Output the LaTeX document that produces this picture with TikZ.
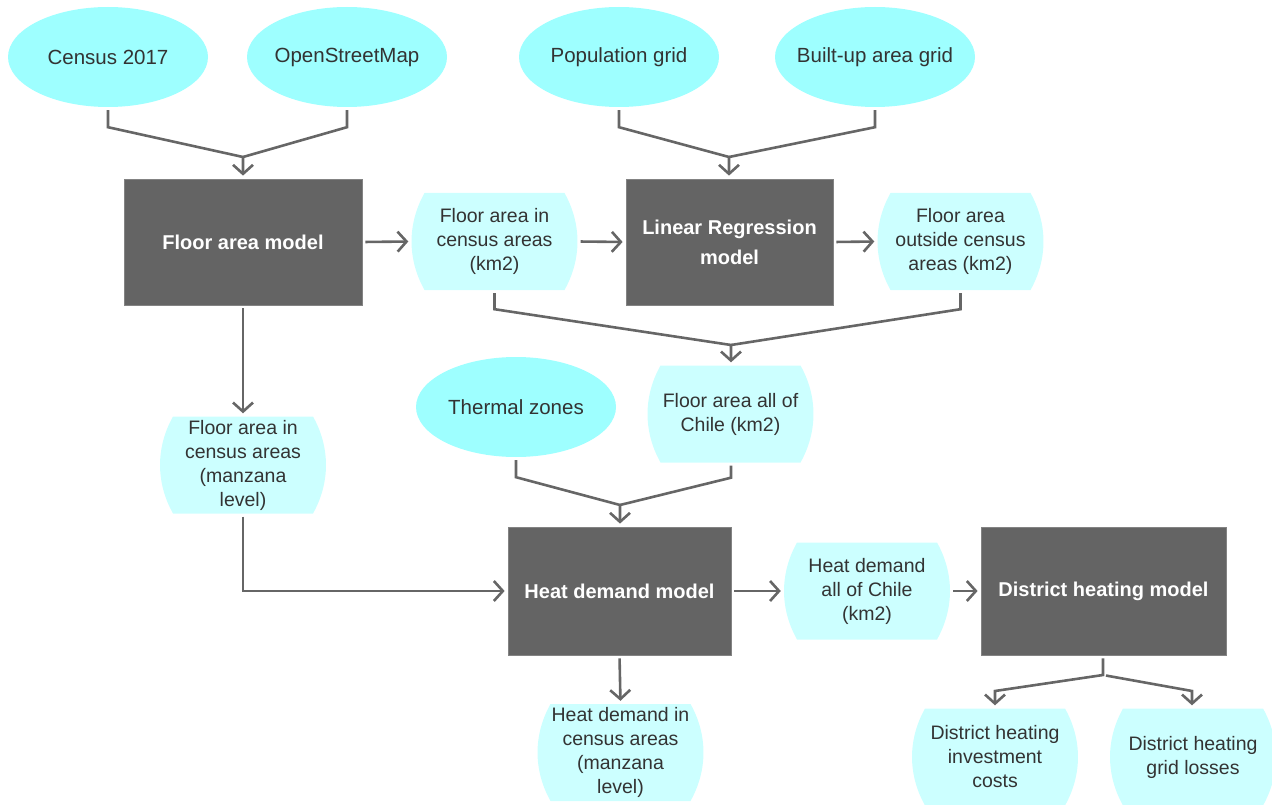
\documentclass[tikz,border=0pt]{standalone}
\usepackage{fontspec}
\setmainfont{Liberation Sans}
\usetikzlibrary{arrows.meta,shapes.geometric}
\definecolor{srcfill}{HTML}{9EFFFF}
\definecolor{datafill}{HTML}{CCFFFF}
\definecolor{modelfill}{HTML}{646464}
\definecolor{linegray}{HTML}{666666}
\definecolor{txtgray}{HTML}{333333}
\tikzset{
  src/.style={ellipse, fill=srcfill, minimum width=200pt, minimum height=100pt,
    inner xsep=-25pt, inner ysep=0pt,
    font=\fontsize{20.5}{24}\selectfont, text=txtgray},
  datanode/.style={rectangle, minimum width=166pt, minimum height=97pt, inner sep=0pt, align=center,
    font=\fontsize{19.5}{24}\selectfont, text=txtgray,
    path picture={
      \coordinate (NW) at (path picture bounding box.north west);
      \coordinate (NE) at (path picture bounding box.north east);
      \coordinate (SW) at (path picture bounding box.south west);
      \coordinate (SE) at (path picture bounding box.south east);
      \fill[datafill]
        ([xshift=13pt]NW) -- ([xshift=-13pt]NE)
        .. controls ([xshift=4.3pt,yshift=-30.8pt]NE) and ([xshift=4.3pt,yshift=30.8pt]SE)
        .. ([xshift=-13pt]SE)
        -- ([xshift=13pt]SW)
        .. controls ([xshift=-4.3pt,yshift=30.8pt]SW) and ([xshift=-4.3pt,yshift=-30.8pt]NW)
        .. cycle;
    }},
  model/.style={rectangle, fill=modelfill, draw=modelfill!80!white, line width=0.8pt, align=center,
    font=\fontsize{20}{30}\selectfont\bfseries, text=white},
  conn/.style={draw=linegray, line width=2.6pt, shorten >=3pt, shorten <=3pt,
    -{Straight Barb[length=9pt,width=20pt]}},
  plain/.style={draw=linegray, line width=2.6pt, shorten <=3pt}
}
\begin{document}
\begin{tikzpicture}[x=1pt,y=-1pt]
\useasboundingbox (0,0) rectangle (1272,805);
\clip (0,0) rectangle (1272,805);
% sources
\node[src] (cen) at (108,57) {Census 2017};
\node[src] (osm) at (347,57) {OpenStreetMap};
\node[src] (pop) at (619,57) {Population grid};
\node[src] (bua) at (875,57) {Built-up area grid};
\node[src] (thz) at (516,407) {Thermal zones};
% models
\node[model, minimum width=238pt, minimum height=126pt] (fam) at (243,242) {Floor area model};
\node[model, minimum width=207pt, minimum height=126pt] (lrm) at (729.5,242) {Linear Regression\\model};
\node[model, minimum width=223pt, minimum height=128pt] (hdm) at (619.5,591) {Heat demand model};
\node[model, minimum width=245pt, minimum height=128pt] (dhm) at (1103.5,591) {District heating model};
% data
\node[datanode] (fac) at (494.5,241.5) {Floor area in\\census areas\\(km2)};
\node[datanode] (foc) at (960.5,241.5) {Floor area\\outside census\\areas (km2)};
\node[datanode] (fall) at (730.5,414) {Floor area all of\\Chile (km2)};
\node[datanode] (fcm) at (243,465) {Floor area in\\census areas\\(manzana\\level)};
\node[datanode] (hda) at (867,591) {Heat demand\\all of Chile\\(km2)};
\node[datanode] (hdc) at (620.5,752.5) {Heat demand in\\census areas\\(manzana\\level)};
\node[datanode] (dic) at (995,757) {District heating\\investment\\costs};
\node[datanode] (dgl) at (1193,757) {District heating\\grid losses};
% junctions
\coordinate (j1) at (243,157);
\coordinate (j2) at (729,157);
\coordinate (j3) at (731,345);
\coordinate (j4) at (620,505);
\coordinate (j5) at (1103,675);
\coordinate (b1) at (995,691);
\coordinate (b2) at (1192,691);
% connectors
\draw[conn] (cen.south) -- ++(0,20) -- (j1) -- (fam.north);
\draw[plain] (osm.south) -- ++(0,20) -- (j1);
\draw[conn] (pop.south) -- ++(0,20) -- (j2) -- (lrm.north -| j2);
\draw[plain] (bua.south) -- ++(0,20) -- (j2);
\draw[conn] (fam.east) -- (fac.west);
\draw[conn] (fac.east) -- (lrm.west);
\draw[conn] (lrm.east) -- (foc.west);
\draw[conn] (fac.south) -- ++(0,19) -- (j3) -- (fall.north -| j3);
\draw[plain] (foc.south) -- ++(0,19) -- (j3);
\draw[conn] (fam.south) -- (fcm.north);
\draw[conn] (thz.south) -- ++(0,20) -- (j4) -- (hdm.north -| j4);
\draw[plain] (fall.south -| j3) -- ++(0,15) -- (j4);
\draw[conn] (fcm.south) -- (fcm.south |- hdm.west) -- (hdm.west);
\draw[conn] (hdm.east) -- (hda.west);
\draw[conn] (hda.east) -- (dhm.west);
\draw[conn] (hdm.south) -- (hdc.north);
\draw[conn] (dhm.south -| j5) -- (j5) -- (b1) -- (dic.north);
\draw[conn] (j5) -- (b2) -- (dgl.north -| b2);
\end{tikzpicture}
\end{document}
